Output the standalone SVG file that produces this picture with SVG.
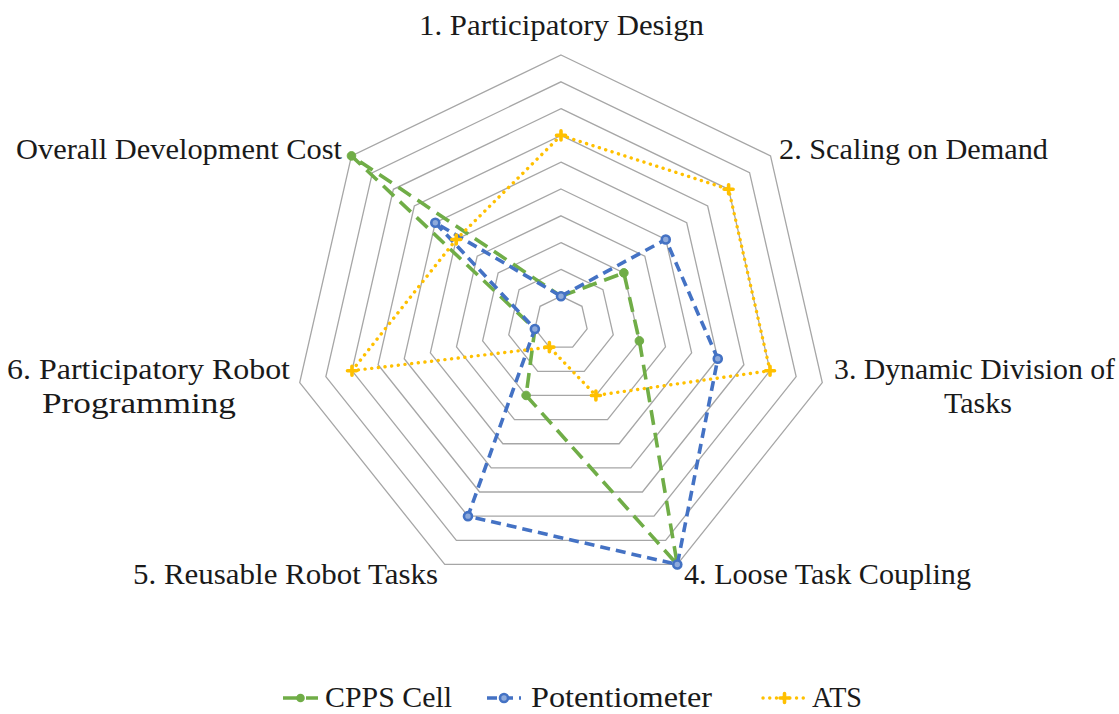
<svg xmlns="http://www.w3.org/2000/svg" width="1119" height="714" viewBox="0 0 1119 714">
  <style>
    .ring { fill: none; stroke: #a6a6a6; stroke-width: 1.3; }
    .lbl { font-family: "Liberation Serif", "DejaVu Serif", serif; font-size: 30px; fill: #1a1a1a; }
    .cpps { fill: none; stroke: #70ad47; stroke-width: 3.6; stroke-dasharray: 15 8; stroke-linejoin: round; }
    .pot { fill: none; stroke: #4472c4; stroke-width: 3.6; stroke-dasharray: 10 6; stroke-linejoin: round; }
    .ats { fill: none; stroke: #ffc000; stroke-width: 3.4; stroke-dasharray: 0.1 6.6; stroke-linecap: round; stroke-linejoin: round; }
  </style>
  <defs>
    <marker id="mk-cpps" markerUnits="userSpaceOnUse" markerWidth="14" markerHeight="14" refX="7" refY="7" overflow="visible">
      <circle cx="7" cy="7" r="4.3" fill="#70ad47" stroke="#70ad47" stroke-width="1"/>
    </marker>
    <marker id="mk-pot" markerUnits="userSpaceOnUse" markerWidth="14" markerHeight="14" refX="7" refY="7" overflow="visible">
      <circle cx="7" cy="7" r="4" fill="#8eaadb" stroke="#4472c4" stroke-width="2.6"/>
    </marker>
    <marker id="mk-ats" markerUnits="userSpaceOnUse" markerWidth="14" markerHeight="14" refX="7" refY="7" overflow="visible">
      <path d="M7 2.5 V11.5 M2.5 7 H11.5" stroke="#ffc000" stroke-width="3.6" stroke-linecap="round" fill="none"/>
    </marker>
  </defs>

  <rect width="1119" height="714" fill="#ffffff"/>

  <!-- grid: ten concentric heptagons, step 26.8 -->
  <g id="grid">
    <polygon class="ring" points="561,296.2 581.95,306.29 587.13,328.96 572.63,347.15 549.37,347.15 534.87,328.96 540.05,306.29"/>
    <polygon class="ring" points="561,269.4 602.91,289.58 613.26,334.93 584.26,371.29 537.74,371.29 508.74,334.93 519.09,289.58"/>
    <polygon class="ring" points="561,242.6 623.86,272.87 639.38,340.89 595.88,395.44 526.12,395.44 482.62,340.89 498.14,272.87"/>
    <polygon class="ring" points="561,215.8 644.81,256.16 665.51,346.85 607.51,419.58 514.49,419.58 456.49,346.85 477.19,256.16"/>
    <polygon class="ring" points="561,189 665.77,239.45 691.64,352.82 619.14,443.73 502.86,443.73 430.36,352.82 456.23,239.45"/>
    <polygon class="ring" points="561,162.2 686.72,222.74 717.77,358.78 630.77,467.88 491.23,467.88 404.23,358.78 435.28,222.74"/>
    <polygon class="ring" points="561,135.4 707.67,206.03 743.9,364.75 642.4,492.02 479.6,492.02 378.1,364.75 414.33,206.03"/>
    <polygon class="ring" points="561,108.6 728.62,189.32 770.02,370.71 654.02,516.17 467.98,516.17 351.98,370.71 393.38,189.32"/>
    <polygon class="ring" points="561,81.8 749.58,172.61 796.15,376.67 665.65,540.31 456.35,540.31 325.85,376.67 372.42,172.61"/>
    <polygon class="ring" points="561,55 770.53,155.9 822.28,382.64 677.28,564.46 444.72,564.46 299.72,382.64 351.47,155.9"/>
  </g>

  <!-- axis labels -->
  <g id="axis-labels">
    <text id="ax1" class="lbl" x="419" y="35" textLength="285" lengthAdjust="spacingAndGlyphs">1. Participatory Design</text>
    <text id="ax2" class="lbl" x="779" y="159" textLength="269" lengthAdjust="spacingAndGlyphs">2. Scaling on Demand</text>
    <g id="ax3">
      <text class="lbl" x="834" y="379" textLength="281" lengthAdjust="spacingAndGlyphs">3. Dynamic Division of</text>
      <text class="lbl" x="978" y="413" text-anchor="middle">Tasks</text>
    </g>
    <text id="ax4" class="lbl" x="684" y="584" textLength="287" lengthAdjust="spacingAndGlyphs">4. Loose Task Coupling</text>
    <text id="ax5" class="lbl" x="133" y="584" textLength="305" lengthAdjust="spacingAndGlyphs">5. Reusable Robot Tasks</text>
    <g id="ax6">
      <text class="lbl" x="7" y="379" textLength="283" lengthAdjust="spacingAndGlyphs">6. Participatory Robot</text>
      <text class="lbl" x="42" y="413" textLength="194" lengthAdjust="spacingAndGlyphs">Programming</text>
    </g>
    <text id="ax7" class="lbl" x="16" y="159" textLength="326" lengthAdjust="spacingAndGlyphs">Overall Development Cost</text>
  </g>

  <!-- data series -->
  <g id="series">
    <polygon id="s-cpps" class="cpps" marker-start="url(#mk-cpps)" marker-mid="url(#mk-cpps)"
      points="561,296.2 623.86,272.87 639.38,340.89 677.29,564.47 526.11,395.44 534.87,328.96 351.48,155.9"/>
    <polygon id="s-pot" class="pot" marker-start="url(#mk-pot)" marker-mid="url(#mk-pot)"
      points="561,296.2 665.76,239.45 717.76,358.78 677.29,564.47 467.97,516.17 534.87,328.96 435.29,222.74"/>
    <polygon id="s-ats" class="ats" marker-start="url(#mk-ats)" marker-mid="url(#mk-ats)"
      points="561,135.4 728.62,189.32 770.02,370.7 595.89,395.44 549.37,347.15 351.98,370.7 456.24,239.45"/>
  </g>

  <!-- legend -->
  <g id="legend">
    <g id="lg-cpps">
      <line class="cpps" x1="283" y1="698" x2="318" y2="698" stroke-dasharray="14 6"/>
      <circle cx="300.5" cy="698" r="4.3" fill="#70ad47"/>
      <text class="lbl" x="325" y="707" textLength="127" lengthAdjust="spacingAndGlyphs">CPPS Cell</text>
    </g>
    <g id="lg-pot">
      <line class="pot" x1="487" y1="698" x2="521" y2="698" stroke-dasharray="9 5"/>
      <circle cx="504" cy="698" r="4" fill="#8eaadb" stroke="#4472c4" stroke-width="2.6"/>
      <text class="lbl" x="531" y="707" textLength="181" lengthAdjust="spacingAndGlyphs">Potentiometer</text>
    </g>
    <g id="lg-ats">
      <line class="ats" x1="763" y1="698" x2="806" y2="698"/>
      <path d="M784.5 693.5 V702.5 M780 698 H789" stroke="#ffc000" stroke-width="3.6" stroke-linecap="round" fill="none"/>
      <text class="lbl" x="812" y="707" textLength="50" lengthAdjust="spacingAndGlyphs">ATS</text>
    </g>
  </g>
</svg>
